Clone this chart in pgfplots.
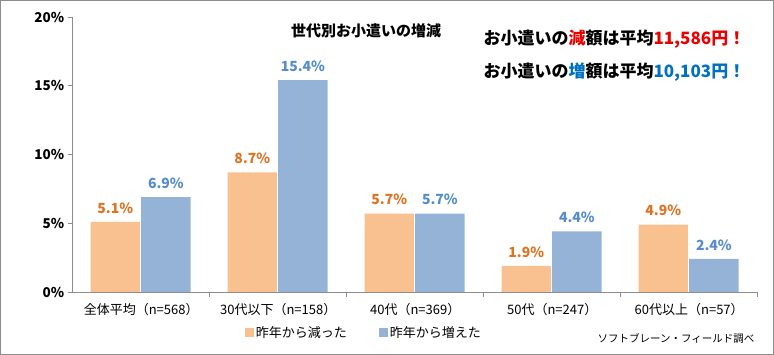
\documentclass[border=0pt]{standalone}
\usepackage{pgfplots}
\pgfplotsset{compat=1.18}
\usepackage{fontspec}
\setmainfont{Noto Sans CJK JP}
\definecolor{barO}{RGB}{249,192,144}
\definecolor{barB}{RGB}{149,179,215}
\definecolor{labO}{RGB}{222,115,35}
\definecolor{labB}{RGB}{85,140,205}
\definecolor{redT}{RGB}{235,0,0}
\definecolor{bluT}{RGB}{0,112,192}
\definecolor{axg}{RGB}{140,140,140}
\begin{document}
\begin{tikzpicture}
\useasboundingbox (0,0) rectangle (774pt,355pt);
\draw[axg, line width=0.8pt] (0.5pt,0.5pt) rectangle (773.5pt,354.5pt);
\begin{axis}[
 at={(72.7pt,63pt)}, anchor=south west,
 scale only axis, width=685pt, height=275pt,
 xmin=-0.5, xmax=4.5, ymin=0, ymax=20,
 axis x line*=bottom, axis y line*=left,
 axis line style={axg, line width=0.8pt, -},
 ytick={0,5,10,15,20},
 yticklabel={\pgfmathprintnumber{\tick}\%},
 /pgf/number format/assume math mode=true,
 yticklabel style={font=\fontsize{13.5}{15}\selectfont\bfseries},
 xtick={0,1,2,3,4},
 xticklabels={全体平均（n=568）, 30代以下（n=158）, 40代（n=369）, 50代（n=247）, 60代以上（n=57）},
 xticklabel style={font=\fontsize{13}{15}\selectfont, yshift=-3pt},
 major x tick style={draw=none},
 minor xtick={0.5,1.5,2.5,3.5,4.5},
 tick align=outside,
 tick style={axg, line width=0.8pt},
 major tick length=5pt, minor tick length=5pt,
 legend style={at={(0.425,-0.149)}, anchor=center, draw=none, fill=none,
   font=\fontsize{13}{15}\selectfont, legend columns=2,
   /tikz/every even column/.append style={column sep=30pt}},
 legend image code/.code={\fill[#1] (0pt,-4.5pt) rectangle (9pt,4.5pt);},
 nodes near coords={\pgfmathprintnumber[fixed,fixed zerofill,precision=1]{\pgfplotspointmeta}\%},
]
\addplot[ybar, bar width=0.36, bar shift=-0.19, fill=barO, draw=none,
  every node near coord/.append style={font=\fontsize{14}{16}\selectfont\bfseries, text=labO, yshift=5pt, xshift=-26pt}]
  coordinates {(0,5.1) (1,8.7) (2,5.7) (3,1.9) (4,4.9)};
\addlegendentry{昨年から減った}
\addplot[ybar, bar width=0.36, bar shift=0.18, fill=barB, draw=none,
  every node near coord/.append style={font=\fontsize{14}{16}\selectfont\bfseries, text=labB, yshift=5pt, xshift=24.7pt}]
  coordinates {(0,6.9) (1,15.4) (2,5.7) (3,4.4) (4,2.4)};
\addlegendentry{昨年から増えた}
\end{axis}
\node[font=\fontsize{15}{17}\selectfont\bfseries] at (366pt,324pt) {世代別お小遣いの増減};
\node[anchor=west, font=\fontsize{17}{19}\selectfont\bfseries] at (480pt,316pt) {お小遣いの\textcolor{redT}{減}額は平均\textcolor{redT}{11,586円！}};
\node[anchor=west, font=\fontsize{17}{19}\selectfont\bfseries] at (480pt,283pt) {お小遣いの\textcolor{bluT}{増}額は平均\textcolor{bluT}{10,103円！}};
\node[font=\fontsize{10.5}{12}\selectfont] at (676pt,17pt) {ソフトブレーン・フィールド調べ};
\end{tikzpicture}
\end{document}
